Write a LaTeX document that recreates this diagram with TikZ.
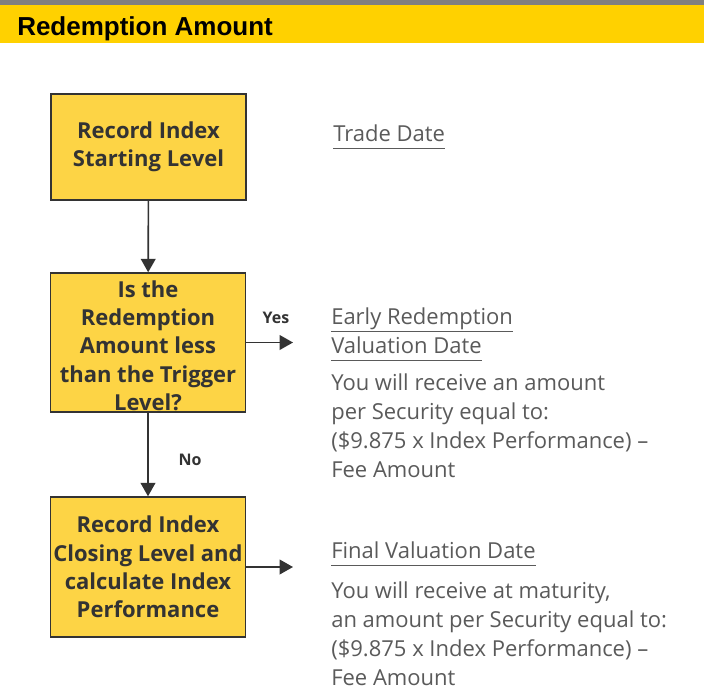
\documentclass[tikz,border=0pt]{standalone}
\usepackage{fontspec}
\setmainfont{Open Sans}
\newfontfamily\headfont{Liberation Sans}
\usetikzlibrary{arrows.meta,positioning}
\definecolor{bandyellow}{RGB}{255,209,0}
\definecolor{boxyellow}{RGB}{253,212,69}
\definecolor{boxtext}{RGB}{51,51,51}
\definecolor{sidetext}{RGB}{90,90,90}
\definecolor{topgrey}{RGB}{128,128,128}
\newcommand{\dateline}[1]{\underline{#1\vphantom{y}}}

\begin{document}
\begin{tikzpicture}[x=0.75pt,y=0.75pt,yscale=-1,xscale=1,
  stepbox/.style={draw=boxtext, line width=1.1pt, fill=boxyellow, align=center, text=boxtext,
    font=\bfseries\fontsize{16.5}{21.2}\selectfont, minimum width=146.25pt, inner sep=0pt},
  flow/.style={draw=boxtext, line width=1.2pt, -{Triangle[length=10pt,width=11pt]}},
  side/.style={anchor=base west, inner sep=0pt, align=left, text=sidetext,
    font=\fontsize{16.5}{21.75}\selectfont},
  answer/.style={text=boxtext, inner sep=0pt, font=\bfseries\fontsize{12}{14}\selectfont}]
\useasboundingbox (0,0) rectangle (704,690);

% header band
\fill[topgrey] (0,0) rectangle (704,5);
\fill[bandyellow] (0,5) rectangle (704,43);
\node (title) [anchor=base west, inner sep=0pt, font=\headfont\bfseries\fontsize{19.5}{22}\selectfont] at (17,35) {Redemption Amount};

% flow boxes
\node (start) [stepbox, minimum height=79.5pt] at (148.5,147) {Record Index\\Starting Level};
\node (question) [stepbox, minimum height=104.25pt] at (148,342.5) {\\[-4pt]Is the\\Redemption\\Amount less\\than the Trigger\\Level?};
\node (closing) [stepbox, minimum height=105pt] at (148,567) {Record Index\\Closing Level and\\calculate Index\\Performance};

% connectors
\coordinate (yesend) at (293,342.5);
\coordinate (finalend) at (293,567);
\draw[flow] (start) -- (question);
\draw[flow] (question) -- (closing);
\draw[flow] (question.east) -- (yesend);
\draw[flow] (closing.east) -- (finalend);
\node (yes) [answer] at (276,318) {Yes};
\node (no) [answer] at (190,460) {No};

% dates and payouts (base = last line)
\node (trade) [side] at (333,141) {\dateline{Trade Date}};
\node (earlyhead) [side] at (331,353) {\dateline{Early Redemption}\\\dateline{Valuation Date}};
\node (earlybody) [side] at (331,477) {You will receive an amount\\per Security equal to:\\(\$9.875 x Index Performance) --\\Fee Amount};
\node (finalhead) [side] at (331,558) {\dateline{Final Valuation Date}};
\node (finalbody) [side] at (331,685) {You will receive at maturity,\\an amount per Security equal to:\\(\$9.875 x Index Performance) --\\Fee Amount};
\end{tikzpicture}
\end{document}
